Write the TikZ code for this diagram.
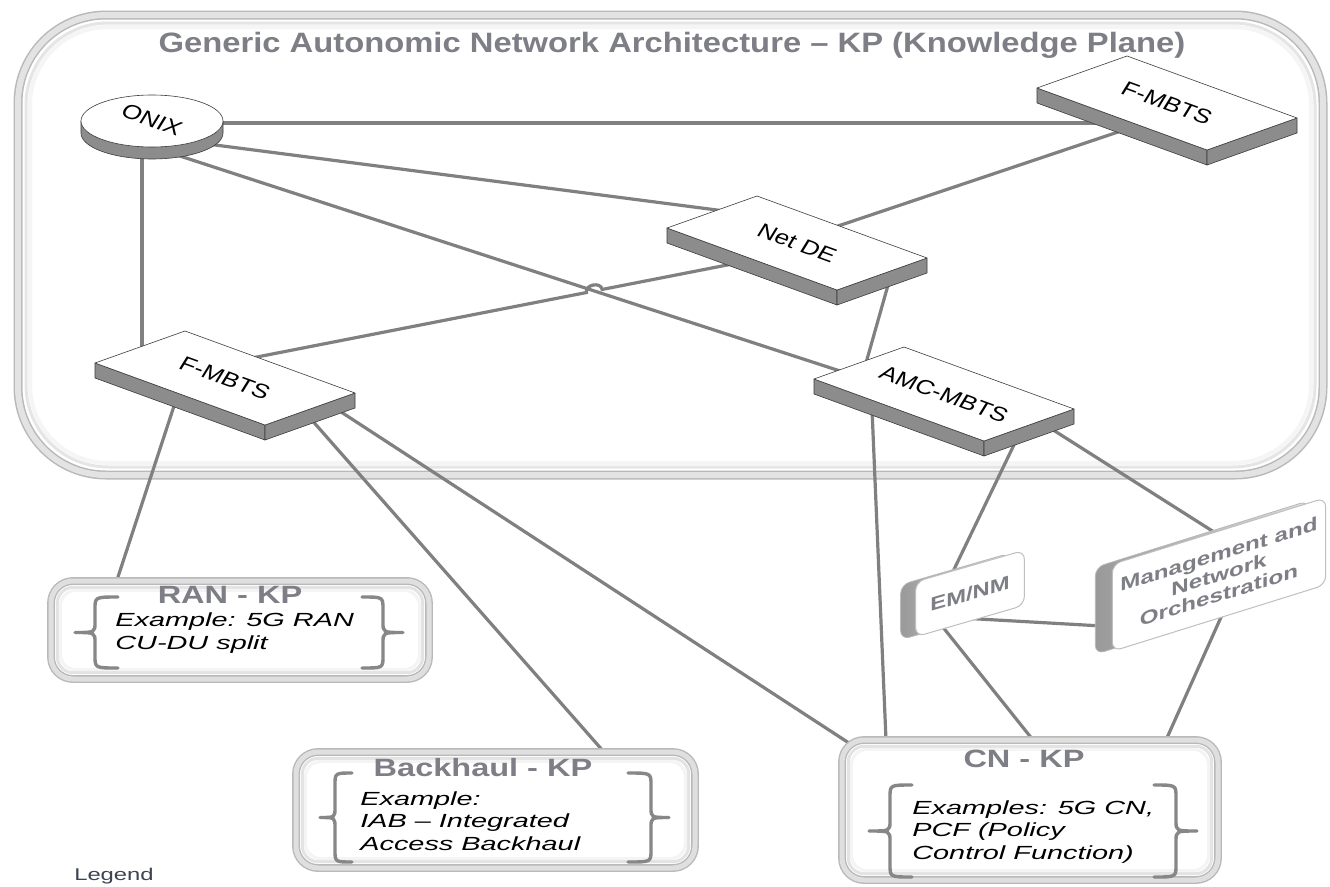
\documentclass[tikz,border=0pt]{standalone}
\usepackage{fontspec}
\setmainfont{Liberation Sans}
\usetikzlibrary{calc}
\pgfdeclarelayer{background}
\pgfsetlayers{background,main}

\definecolor{conncol}{RGB}{128,128,128}
\definecolor{headgray}{RGB}{126,127,134}
\definecolor{sidegray}{RGB}{140,140,140}
\definecolor{edgedark}{RGB}{60,60,60}
\definecolor{bracegray}{RGB}{135,135,135}
\definecolor{legendcol}{RGB}{60,68,80}

% isometric slab: name, x, y, label
\newcommand{\slabat}[4]{%
  \begin{scope}[shift={(#2,#3)}]
    \filldraw[slabside] (-130,-15) -- (40,47) -- (40,62) -- (-130,0) -- cycle;
    \filldraw[slabside] (40,47) -- (130,15) -- (130,30) -- (40,62) -- cycle;
    \filldraw[slabtop] (-130,-15) -- (-40,-47) -- (130,15) -- (40,47) -- cycle;
  \end{scope}
  \node[slablabel] (#1) at (#2,#3) {#4};
}

% curly brace: tip x, stem x, end x, top y, bottom y
\newcommand{\curly}[5]{%
  \draw[bracestroke] (#3,#4) .. controls (#2,#4) .. ({#2},{#4+12})
    -- ({#2},{(#4+#5)/2-10}) .. controls ({#2},{(#4+#5)/2}) .. ({#1},{(#4+#5)/2})
    .. controls ({#2},{(#4+#5)/2}) .. ({#2},{(#4+#5)/2+10})
    -- ({#2},{#5-12}) .. controls (#2,#5) .. (#3,#5);
}

% soft inner bevel of a rounded box node: node name, corner radius
\newcommand{\bevel}[2]{%
  \draw[gray!22, line width=3pt, rounded corners=#2pt]
    ($(#1.north west)+(7,7)$) rectangle ($(#1.south east)+(-7,-7)$);
  \draw[gray!9, line width=3pt, rounded corners=#2pt]
    ($(#1.north west)+(10,10)$) rectangle ($(#1.south east)+(-10,-10)$);
}

\begin{document}
\begin{tikzpicture}[x=1pt,y=-1pt,
  conn/.style={draw=conncol, line width=3.2pt},
  slabtop/.style={fill=white, draw=edgedark, line width=0.6pt, line join=round},
  slabside/.style={fill=sidegray, draw=edgedark, line width=0.6pt, line join=round},
  slablabel/.style={font=\fontsize{20}{24}\selectfont, inner sep=0pt,
    cm={1.174,-0.429,0.557,0.903,(0,0)}},
  planebox/.style={draw=gray!55, line width=1.5pt, double=gray!22, double distance=6pt,
    rounded corners=88pt, fill=white, inner sep=0pt},
  kpbox/.style={draw=gray!55, line width=1.4pt, double=gray!25, double distance=5pt,
    rounded corners=22pt, fill=white, inner sep=0pt},
  titletext/.style={font=\bfseries\fontsize{28}{32}\selectfont, text=headgray,
    xscale=1.17, anchor=base, inner sep=0pt},
  headtext/.style={font=\bfseries\fontsize{25}{28}\selectfont, text=headgray,
    xscale=1.3, anchor=base, inner sep=0pt},
  exampletext/.style={font=\itshape\fontsize{19}{22.5}\selectfont, align=left,
    xscale=1.52, anchor=west, inner sep=0pt},
  bracestroke/.style={draw=bracegray, line width=3.4pt, line cap=round, line join=round},
  emface/.style={rectangle, rounded corners=9pt, fill=white, draw=gray!50, line width=1pt,
    inner sep=0pt, text=headgray, font=\bfseries\fontsize{19}{20.5}\selectfont, align=center},
  emside/.style={rectangle, rounded corners=9pt, left color=gray!80, right color=gray!25,
    draw=gray!55, line width=0.8pt, inner sep=0pt},
  legendtext/.style={font=\fontsize{17}{20}\selectfont, text=legendcol, xscale=1.4,
    anchor=base west, inner sep=0pt}
]
\useasboundingbox (0,0) rectangle (1330,886);

% ---- network elements of the knowledge plane ----
\slabat{fmbtsR}{1167}{103}{F-MBTS}
\slabat{netde}{797}{243}{Net DE}
\slabat{fmbtsL}{225}{378}{F-MBTS}
\slabat{amc}{944}{394}{AMC-MBTS}

% ONIX database disk
\begin{scope}[shift={(152,121)}]
  \filldraw[slabside] (-71,0) -- (-71,12)
    -- plot[domain=180:360, samples=60] ({71*cos(\x)},{12-26*sin(\x)}) -- (71,0) -- cycle;
  \filldraw[slabtop] (0,0) ellipse [x radius=71, y radius=26];
\end{scope}
\node[slablabel] (onix) at (152,120) {ONIX};

% ---- title ----
\node[titletext] (title) at (672,52) {Generic Autonomic Network Architecture – KP (Knowledge Plane)};

% ---- domain knowledge planes ----
\node[kpbox, minimum width=378pt, minimum height=98pt] (ran) at (240,630) {};
\bevel{ran}{16}
\node[headtext] (ranh) at (230,603) {RAN - KP};
\curly{75}{95}{118}{597}{668}
\curly{403}{383}{362}{597}{668}
\node[exampletext] (ranx) at (115,633) {Example: 5G RAN\\CU-DU split};

\node[kpbox, minimum width=399pt, minimum height=116pt] (backhaul) at (495.5,810) {};
\bevel{backhaul}{16}
\node[headtext] (backhaulh) at (483,776) {Backhaul - KP};
\curly{320}{335}{352}{773}{862}
\curly{669}{651}{628}{773}{862}
\node[exampletext] (backhaulx) at (360,821) {Example:\\IAB – Integrated\\Access Backhaul};

\node[kpbox, minimum width=376pt, minimum height=140pt] (cn) at (1030,810) {};
\bevel{cn}{16}
\node[headtext] (cnh) at (1024,767) {CN - KP};
\curly{869}{890}{912}{785}{877}
\curly{1197}{1176}{1154}{785}{877}
\node[exampletext] (cnx) at (912,832) {Examples: 5G CN,\\PCF (Policy\\Control Function)};

% ---- management functions ----
\node[emside, minimum width=87pt, minimum height=55pt, cm={1.25,0.3625,0,1,(0,0)}]
  (emnmside) at (955,596.5) {};
\node[emface, minimum width=87pt, minimum height=55pt, cm={1.25,0.3625,0,1,(0,0)}]
  (emnm) at (970,593.5) {EM/NM};
\node[emside, minimum width=168pt, minimum height=87pt, cm={1.27,0.396,0,1,(0,0)}]
  (mgmtside) at (1202,577.5) {};
\node[emface, minimum width=168pt, minimum height=87pt, cm={1.27,0.396,0,1,(0,0)}]
  (mgmt) at (1219,574.5) {Management and\\Network\\Orchestration};

% ---- legend ----
\node[legendtext] (legend) at (74,880) {Legend};

% ---- plane frame and links (behind the elements) ----
\begin{pgfonlayer}{background}
  \fill[white] (0,0) rectangle (1330,886);
  \node[planebox, minimum width=1305pt, minimum height=460pt] (plane) at (670.5,245) {};
  \draw[gray!20, line width=3pt, rounded corners=82pt] (26,23) rectangle (1315,467);
  \draw[gray!8, line width=4pt, rounded corners=78pt] (30,27) rectangle (1311,463);

  \coordinate (c3a) at ($(onix)+(23,34.4)$);
  \coordinate (c3b) at ($(amc)+(-84,-16.5)$);
  \coordinate (c5a) at ($(fmbtsL)+(15,-17.7)$);
  \coordinate (c5b) at ($(netde)+(-52,18.5)$);
  \coordinate (hop) at (intersection of c3a--c3b and c5a--c5b);

  \draw[conn] ($(onix)+(60,3)$) -- ($(fmbtsR)+(-70,20)$);
  \draw[conn] ($(onix)+(40,22)$) -- ($(netde)+(-57,-30)$);
  \draw[conn] (c3a) -- (c3b);
  \draw[conn] ($(onix)+(-10,30)$) -- ($(fmbtsL)+(-83,-23)$);
  \draw[conn] (c5a) -- ($(hop)!8pt!(c5a)$) to[bend left=90, looseness=1.3] ($(hop)!8pt!(c5b)$) -- (c5b);
  \draw[conn] ($(netde)+(33,-14.3)$) -- ($(fmbtsR)+(-32,23.3)$);
  \draw[conn] ($(netde)+(95,28)$) -- ($(amc)+(-80,-24)$);
  \draw[conn] ($(fmbtsL)+(-50,25)$) -- ($(ran)+(-124,-47)$);
  \draw[conn] ($(fmbtsL)+(85,40)$) -- ($(backhaul)+(108.5,-58)$);
  \draw[conn] ($(fmbtsL)+(110,30)$) -- ($(cn)+(-178,-65)$);
  \draw[conn] ($(amc)+(-72,15)$) -- ($(cn)+(-144,-70)$);
  \draw[conn] ($(amc)+(80,30)$) -- ($(emnm)+(-23.5,-8.5)$);
  \draw[conn] ($(amc)+(95,27)$) -- ($(mgmt)+(6,-35.5)$);
  \draw[conn] ($(emnm)+(0,25)$) -- ($(mgmt)+(-108,52)$);
  \draw[conn] ($(emnm)+(-30,30)$) -- ($(cn)+(3,-70)$);
  \draw[conn] ($(mgmt)+(5,36)$) -- ($(cn)+(136,-70)$);
\end{pgfonlayer}
\end{tikzpicture}
\end{document}
